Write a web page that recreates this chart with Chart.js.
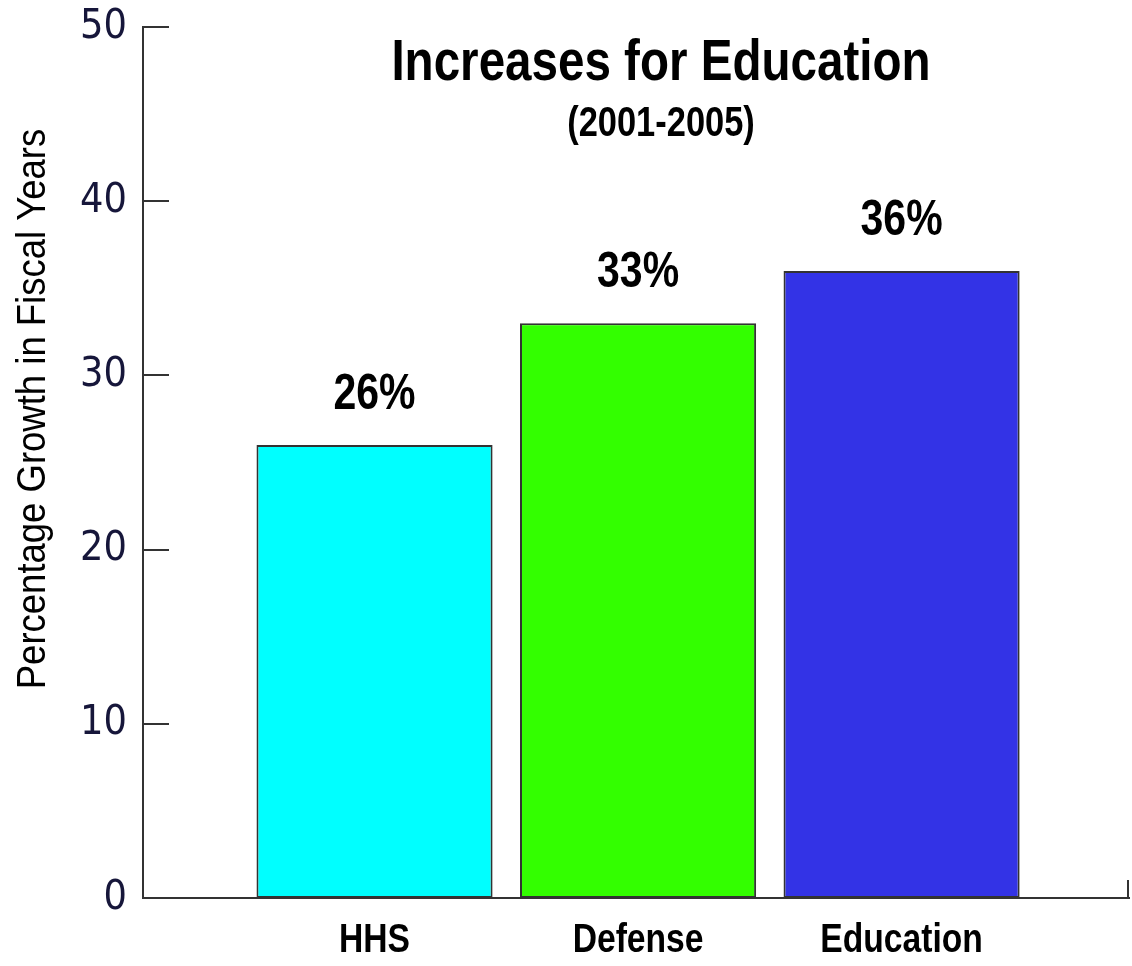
<!DOCTYPE html>
<html>
<head>
<meta charset="utf-8">
<script src="https://cdn.jsdelivr.net/npm/chart.js@4/dist/chart.umd.min.js"></script>
<style>
  html, body { margin: 0; padding: 0; background: #ffffff; }
  #wrap { width: 1132px; height: 966px; position: relative; }
</style>
</head>
<body>
<div id="wrap"><canvas id="c" width="1132" height="966"></canvas></div>
<script>
const categories = ['HHS', 'Defense', 'Education'];
const growthValues = [26, 33, 36];
const yTickValues = [0, 10, 20, 30, 40, 50];
const titleText = 'Increases for Education';
const subtitleText = '(2001-2005)';
const yAxisTitle = 'Percentage Growth in Fiscal Years';
const barColors = ['#00FFFF', '#33FF00', '#3333E6'];

const AXIS_COLOR = '#333333';
const SANS = '"Liberation Sans", Arial, sans-serif';
const NARROW_SCALE = 0.82;

function drawCondensed(ctx, text, x, y, font, sx, baseline) {
  ctx.save();
  ctx.translate(x, y);
  ctx.scale(sx, 1);
  ctx.font = font;
  ctx.textAlign = 'center';
  ctx.textBaseline = baseline;
  ctx.fillText(text, 0, 0);
  ctx.restore();
}

const decorPlugin = {
  id: 'decor',
  afterDraw(chart) {
    const ctx = chart.ctx;
    const ca = chart.chartArea;
    const ys = chart.scales.y;
    const xs = chart.scales.x;
    ctx.save();
    // inward y ticks
    ctx.strokeStyle = AXIS_COLOR;
    ctx.lineWidth = 2;
    yTickValues.forEach(v => {
      if (v === 0) return;
      const py = Math.round(ys.getPixelForValue(v));
      ctx.beginPath();
      ctx.moveTo(ca.left, py);
      ctx.lineTo(ca.left + 26, py);
      ctx.stroke();
    });
    // small tick at right end of x axis
    ctx.beginPath();
    ctx.moveTo(ca.right - 1, ca.bottom);
    ctx.lineTo(ca.right - 1, ca.bottom - 18);
    ctx.stroke();

    ctx.fillStyle = '#000000';
    // title + subtitle
    drawCondensed(ctx, titleText, 661, 80, 'bold 58px ' + SANS, NARROW_SCALE, 'alphabetic');
    drawCondensed(ctx, subtitleText, 661, 136, 'bold 42px ' + SANS, NARROW_SCALE, 'alphabetic');

    // value labels above bars
    const meta = chart.getDatasetMeta(0);
    meta.data.forEach((el, i) => {
      drawCondensed(ctx, growthValues[i] + '%', el.x, el.y - 50, 'bold 50px ' + SANS, NARROW_SCALE, 'middle');
    });

    // category labels
    categories.forEach((c, i) => {
      drawCondensed(ctx, c, xs.getPixelForValue(i), ca.bottom + 43, 'bold 41px ' + SANS, NARROW_SCALE, 'middle');
    });

    // y axis title
    ctx.save();
    ctx.translate(45, 409);
    ctx.rotate(-Math.PI / 2);
    ctx.scale(0.89, 1);
    ctx.font = '41px ' + SANS;
    ctx.textAlign = 'center';
    ctx.textBaseline = 'alphabetic';
    ctx.fillText(yAxisTitle, 0, 0);
    ctx.restore();

    ctx.restore();
  }
};

new Chart(document.getElementById('c'), {
  type: 'bar',
  data: {
    datasets: [{
      data: growthValues.map((v, i) => ({ x: i, y: v })),
      backgroundColor: barColors,
      borderColor: AXIS_COLOR,
      borderWidth: 2,
      borderSkipped: false,
      categoryPercentage: 1,
      barPercentage: 0.896
    }]
  },
  options: {
    responsive: false,
    animation: false,
    events: [],
    layout: { padding: { top: 27, right: 3, left: 0, bottom: 0 } },
    plugins: {
      legend: { display: false },
      tooltip: { enabled: false },
      title: { display: false }
    },
    scales: {
      x: {
        type: 'linear',
        offset: false,
        min: -0.8786,
        max: 2.863,
        grid: { display: false, drawTicks: false },
        border: { display: true, color: AXIS_COLOR, width: 2 },
        afterBuildTicks(scale) {
          scale.ticks = categories.map((c, i) => ({ value: i }));
        },
        afterFit(scale) {
          scale.height = 68;
          scale.paddingLeft = 0; scale.paddingRight = 0;
        },
        ticks: { display: false }
      },
      y: {
        min: 0,
        max: 50,
        grid: { display: false, drawTicks: false },
        border: { display: true, color: AXIS_COLOR, width: 2 },
        afterBuildTicks(scale) {
          scale.ticks = yTickValues.map(v => ({ value: v }));
        },
        afterFit(scale) {
          scale.width = 143;
          scale.paddingTop = 0; scale.paddingBottom = 0;
        },
        ticks: {
          padding: 16,
          color: '#16163a',
          font: { family: '"DejaVu Sans Condensed", "DejaVu Sans", sans-serif', size: 41 }
        }
      }
    }
  },
  plugins: [decorPlugin]
});
</script>
</body>
</html>
